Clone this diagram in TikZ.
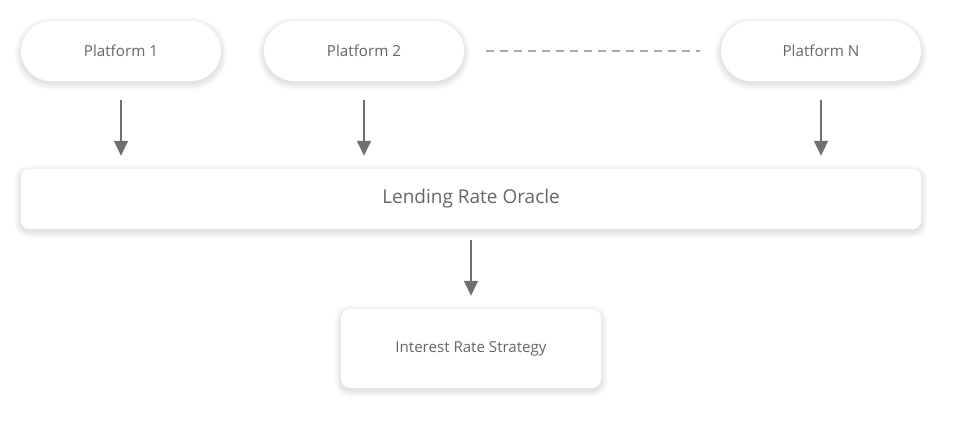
\documentclass[tikz,border=0pt]{standalone}
\usepackage{fontspec}
\setmainfont{Open Sans}
\usetikzlibrary{arrows.meta}
\pgfdeclarelayer{bg}
\pgfdeclarelayer{background}
\pgfsetlayers{bg,background,main}
\definecolor{txt}{HTML}{666666}
\definecolor{arrc}{HTML}{6F6F6F}
\definecolor{dashc}{HTML}{A8A8A8}
\tikzset{
  box/.style={draw=none, fill=white, text=txt, inner sep=0pt},
  pill/.style={box, rounded corners=30pt, minimum width=200pt, minimum height=60pt, font=\fontsize{15.2pt}{18pt}\selectfont},
  arr/.style={draw=arrc, line width=1.5pt, -{Triangle[length=15pt,width=14pt]}},
  shadowlayer/.style={black, opacity=0.016},
}
\newcommand\softshadow[2]{%
  \begin{pgfonlayer}{background}
  \foreach \e in {0,1,...,6}{
    \fill[shadowlayer, rounded corners={#2+\e*1pt}]
      ([xshift=-\e*1pt, yshift=\e*1pt-2.5pt]#1.north west) rectangle
      ([xshift=\e*1pt, yshift=-\e*1pt-2.5pt]#1.south east);
  }
  \end{pgfonlayer}}
\begin{document}
\begin{tikzpicture}[x=1pt,y=-1pt]
\begin{pgfonlayer}{bg}
\fill[white] (0,0) rectangle (965,421);
\end{pgfonlayer}
\useasboundingbox (0,0) rectangle (965,421);
\node[pill] (p1) at (121,51) {Platform 1};
\node[pill] (p2) at (364,51) {Platform 2};
\node[pill] (pn) at (821,51) {Platform N};
\node[box, rounded corners=8pt, minimum width=900pt, minimum height=60pt, font=\fontsize{19pt}{22pt}\selectfont] (lro) at (471,199) {Lending Rate Oracle};
\node[box, rounded corners=9pt, minimum width=260pt, minimum height=79pt, font=\fontsize{15.1pt}{18pt}\selectfont] (irs) at (471,348.5) {Interest Rate Strategy};
\softshadow{p1}{30pt}
\softshadow{p2}{30pt}
\softshadow{pn}{30pt}
\softshadow{lro}{8pt}
\softshadow{irs}{9pt}
\draw[draw=dashc, line width=1.2pt, dash pattern=on 8pt off 6pt, shorten <=22pt, shorten >=21pt] (p2.east) -- (pn.west);
\draw[arr, shorten <=19pt, shorten >=13pt] (p1.south) -- (p1.south |- lro.north);
\draw[arr, shorten <=19pt, shorten >=13pt] (p2.south) -- (p2.south |- lro.north);
\draw[arr, shorten <=19pt, shorten >=13pt] (pn.south) -- (pn.south |- lro.north);
\draw[arr, shorten <=11pt, shorten >=13pt] (lro.south) -- (irs.north);
\end{tikzpicture}
\end{document}
